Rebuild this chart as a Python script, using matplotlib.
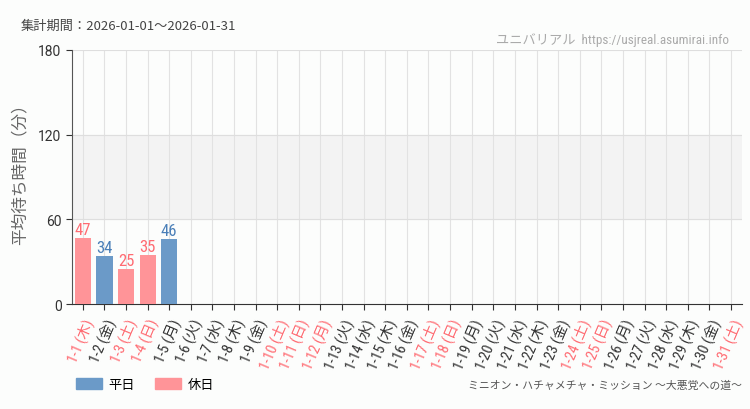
import matplotlib.pyplot as plt
from matplotlib.patches import Patch

plt.rcParams['font.family'] = ['Noto Sans CJK JP', 'DejaVu Sans']
NARROW = ['Roboto Condensed', 'Noto Sans CJK JP', 'DejaVu Sans']

# data
dates = ["1-%d" % d for d in range(1, 32)]
weekdays = ["木", "金", "土", "日", "月", "火", "水", "木", "金", "土", "日", "月",
            "火", "水", "木", "金", "土", "日", "月", "火", "水", "木", "金", "土",
            "日", "月", "火", "水", "木", "金", "土"]
holidays = [1, 3, 4, 10, 11, 12, 17, 18, 24, 25, 31]
wait_times = [47, 34, 25, 35, 46]

blue = '#6b9ac8'
pink = '#ff9498'
blue_txt = '#4a7fb8'
pink_txt = '#ff6b72'

fig = plt.figure(figsize=(7.5, 4.1), dpi=100, facecolor='#fcfdfc')
ax = fig.add_axes([0.096, 0.256, 0.893, 0.62])
ax.set_facecolor('#fcfdfc')

ax.axhspan(60, 120, color='#f3f3f3', zorder=0)
for i in range(len(dates)):
    ax.axvline(i, color='#e2e2e2', lw=0.8, zorder=1)
for y in (60, 120, 180):
    ax.axhline(y, color='#dedede', lw=0.8, zorder=1)

for i, v in enumerate(wait_times):
    hol = (i + 1) in holidays
    ax.bar(i, v, width=0.75, color=pink if hol else blue, zorder=3)
    ax.text(i, v + 0.5, str(v), ha='center', va='bottom', fontsize=12,
            color=pink_txt if hol else blue_txt, family=NARROW, zorder=4)

ax.set_xlim(-0.5, len(dates) - 0.5)
ax.set_ylim(0, 180)
ax.set_yticks([0, 60, 120, 180])
ax.set_xticks(range(len(dates)))
labels = ["%s (%s)" % (d, w) for d, w in zip(dates, weekdays)]
ax.set_xticklabels(labels, rotation=67, ha='right', rotation_mode='anchor',
                   fontsize=10.5, family=NARROW)
for i, t in enumerate(ax.get_xticklabels()):
    t.set_color(pink_txt if (i + 1) in holidays else '#333333')
for t in ax.get_yticklabels():
    t.set_family(['Roboto', 'DejaVu Sans'])
ax.tick_params(axis='y', labelsize=10, colors='#333333', length=4)
ax.tick_params(axis='x', length=4, color='#333333', pad=5)

for s in ('top', 'right'):
    ax.spines[s].set_visible(False)
ax.spines['left'].set_color('#555555')
ax.spines['bottom'].set_color('#333333')

ax.set_ylabel("平均待ち時間（分）", fontsize=12, color='#666666', labelpad=7)
ax.yaxis.label.set_y(0.53)

fig.text(0.027, 0.935, "集計期間：2026-01-01～2026-01-31", fontsize=9.5, color='#444444', va='center')
fig.text(0.972, 0.903, "ユニバリアル  https://usjreal.asumirai.info", fontsize=9.5,
         color='#aaaaaa', ha='right', va='center', family=NARROW)
fig.text(0.99, 0.06, "ミニオン・ハチャメチャ・ミッション ～大悪党への道～", fontsize=7.8,
         color='#555555', ha='right', va='center')

handles = [Patch(color=blue, label='平日'), Patch(color=pink, label='休日')]
fig.legend(handles=handles, loc='center left', bbox_to_anchor=(0.085, 0.06), ncol=2,
           frameon=False, fontsize=9.5, handlelength=2.0, handleheight=0.9,
           columnspacing=1.5, handletextpad=0.5)

fig.savefig('out.png', dpi=100, facecolor=fig.get_facecolor())
